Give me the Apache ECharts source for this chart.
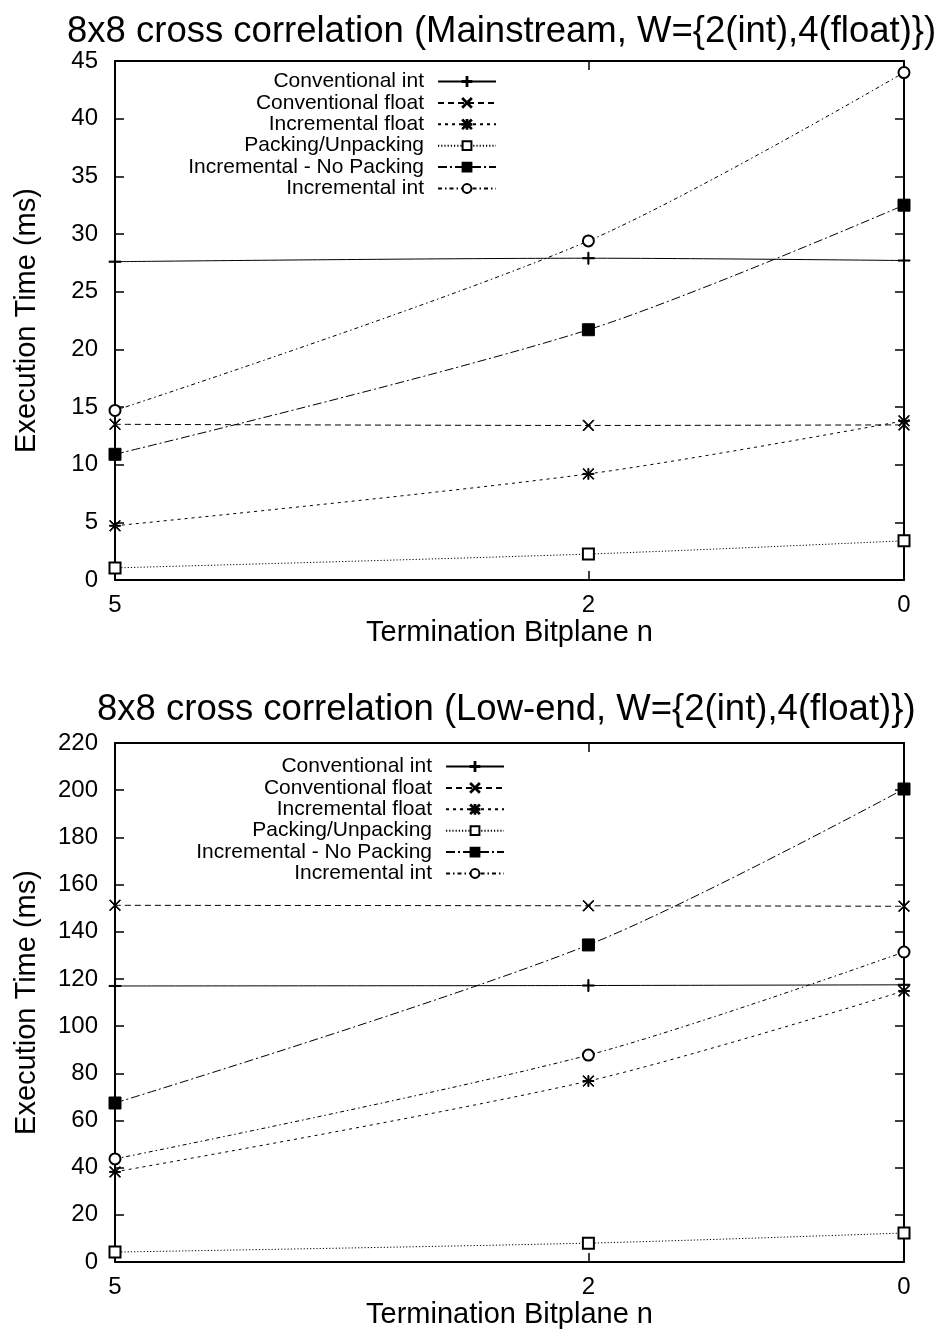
<!DOCTYPE html>
<html>
<head>
<meta charset="utf-8">
<script src="https://cdn.jsdelivr.net/npm/echarts@6/dist/echarts.min.js"></script>
<style>
  html, body { margin: 0; padding: 0; background: #fff; }
  #chart { width: 943px; height: 1333px; }
</style>
</head>
<body>
<div id="chart"></div>
<script>
// Termination bitplane positions (x) shared by both panels
const bitplanes = [5, 2, 0];
const xTickLabels = [5, 2, 0];

const seriesNames = [
  'Conventional int',
  'Conventional float',
  'Incremental float',
  'Packing/Unpacking',
  'Incremental - No Packing',
  'Incremental int'
];

// Mainstream platform, execution time in ms
const mainConvInt   = [27.6, 27.9, 27.7];
const mainConvFloat = [13.5, 13.4, 13.45];
const mainIncFloat  = [4.7, 9.2, 13.8];
const mainPacking   = [1.05, 2.25, 3.4];
const mainNoPacking = [10.9, 21.7, 32.5];
const mainIncInt    = [14.7, 29.4, 44.0];

// Low-end platform, execution time in ms
const lowConvInt   = [117.0, 117.2, 117.5];
const lowConvFloat = [151.2, 151.0, 150.8];
const lowIncFloat  = [38.2, 76.7, 114.9];
const lowPacking   = [4.2, 8.0, 12.3];
const lowNoPacking = [67.4, 134.4, 200.5];
const lowIncInt    = [43.7, 87.7, 131.4];

const mainTitle = '8x8 cross correlation (Mainstream, W={2(int),4(float)})';
const lowTitle  = '8x8 cross correlation (Low-end, W={2(int),4(float)})';
const xName = 'Termination Bitplane n';
const yName = 'Execution Time (ms)';

const FONT = "'Liberation Sans', Arial, sans-serif";

// marker shapes and dash patterns per series
const PLUS = 'path://M0,4.55H10V5.45H0Z M4.55,0H5.45V10H4.55Z';
const CROSS = 'path://M0,0.6L0.6,0L10,9.4L9.4,10Z M9.4,0L10,0.6L0.6,10L0,9.4Z';
const STAR = 'path://M0,0.6L0.6,0L10,9.4L9.4,10Z M9.4,0L10,0.6L0.6,10L0,9.4Z M4.55,0H5.45V10H4.55Z M0,4.55H10V5.45H0Z';
const styles = [
  { symbol: PLUS, size: 12, dash: 'solid' },
  { symbol: CROSS, size: 11, dash: [6, 4] },
  { symbol: STAR, size: 11, dash: [3, 4] },
  { symbol: 'emptyRect', size: 11, dash: [1.2, 2] },
  { symbol: 'rect', size: 12, dash: [9, 3, 2, 3] },
  { symbol: 'emptyCircle', size: 11, dash: [4, 3, 1.5, 3] }
];

const panels = [
  { top: 61, height: 519, max: 45, interval: 5, title: mainTitle, titleTop: 13, titleLeft: 67,
    data: [mainConvInt, mainConvFloat, mainIncFloat, mainPacking, mainNoPacking, mainIncInt],
    legendTop: 71, legendRight: 446 },
  { top: 743, height: 519, max: 220, interval: 20, title: lowTitle, titleTop: 691, titleLeft: 97,
    data: [lowConvInt, lowConvFloat, lowIncFloat, lowPacking, lowNoPacking, lowIncInt],
    legendTop: 756, legendRight: 438 }
];

const grids = [], xAxes = [], yAxes = [], series = [], legends = [], titles = [];

panels.forEach((p, gi) => {
  grids.push({ left: 115, right: 39, top: p.top, height: p.height, containLabel: false });
  titles.push({
    text: p.title, left: p.titleLeft, top: p.titleTop, padding: 0,
    textStyle: { fontFamily: FONT, fontSize: 36.5, fontWeight: 'normal', color: '#000' }
  });

  const lineStyle = { color: '#000', width: 2 };
  const tick = { show: true, inside: true, length: 9, lineStyle: { color: '#000', width: 1.5 } };
  // bottom x axis with labels
  xAxes.push({
    type: 'value', gridIndex: gi, position: 'bottom', inverse: true, min: 0, max: 5,
    name: xName, nameLocation: 'middle', nameGap: 38,
    nameTextStyle: { fontFamily: FONT, fontSize: 29, color: '#000' },
    axisLine: { show: true, onZero: false, lineStyle },
    axisTick: Object.assign({ customValues: bitplanes }, tick),
    axisLabel: { show: true, margin: 13, fontFamily: FONT, fontSize: 24, color: '#000', customValues: xTickLabels },
    splitLine: { show: false }
  });
  // mirrored top x axis
  xAxes.push({
    type: 'value', gridIndex: gi, position: 'top', inverse: true, min: 0, max: 5,
    axisLine: { show: true, onZero: false, lineStyle },
    axisTick: Object.assign({ customValues: bitplanes }, tick),
    axisLabel: { show: false },
    splitLine: { show: false }
  });
  // left y axis with labels
  yAxes.push({
    type: 'value', gridIndex: gi, position: 'left', min: 0, max: p.max, interval: p.interval,
    name: yName, nameLocation: 'middle', nameGap: 74, nameRotate: 90,
    nameTextStyle: { fontFamily: FONT, fontSize: 29, color: '#000' },
    axisLine: { show: true, onZero: false, lineStyle },
    axisTick: tick,
    axisLabel: { show: true, margin: 17, fontFamily: FONT, fontSize: 24, color: '#000' },
    splitLine: { show: false }
  });
  // mirrored right y axis
  yAxes.push({
    type: 'value', gridIndex: gi, position: 'right', min: 0, max: p.max, interval: p.interval,
    axisLine: { show: true, onZero: false, lineStyle },
    axisTick: tick,
    axisLabel: { show: false },
    splitLine: { show: false }
  });

  seriesNames.forEach((name, si) => {
    const st = styles[si];
    series.push({
      type: 'line', name, xAxisIndex: gi * 2, yAxisIndex: gi * 2,
      data: bitplanes.map((x, k) => [x, p.data[si][k]]),
      smooth: 0.3,
      symbol: st.symbol, symbolSize: st.size,
      showAllSymbol: true,
      lineStyle: { color: '#000', width: 1, type: st.dash },
      itemStyle: { color: '#000', borderColor: '#000', borderWidth: 1 },
      emphasis: { disabled: true },
      animation: false,
      z: 3
    });
    legends.push({
      data: [name], orient: 'horizontal', align: 'right',
      right: p.legendRight, top: p.legendTop + si * 21.4, padding: 0,
      itemWidth: 58, itemHeight: 11, selectedMode: false,
      textStyle: { fontFamily: FONT, fontSize: 21, color: '#000', padding: [0, 9, 0, 0] }
    });
  });
});

const chart = echarts.init(document.getElementById('chart'), null, { renderer: 'canvas' });
chart.setOption({
  backgroundColor: '#fff',
  animation: false,
  title: titles,
  grid: grids,
  xAxis: xAxes,
  yAxis: yAxes,
  legend: legends,
  series
});
</script>
</body>
</html>
